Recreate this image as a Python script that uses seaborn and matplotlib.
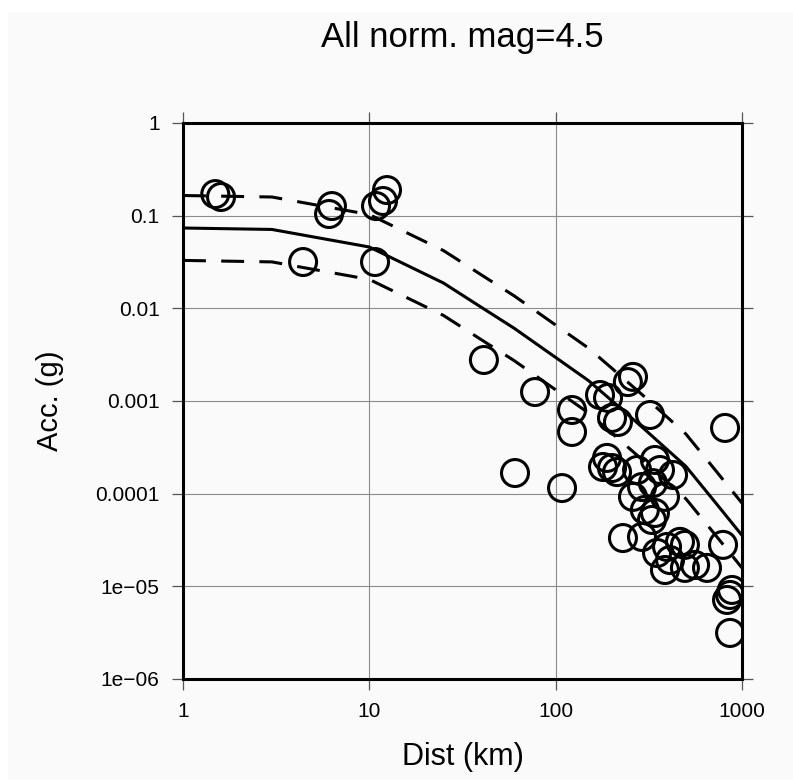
import numpy as np
import pandas as pd
import matplotlib
matplotlib.use("Agg")
import matplotlib.pyplot as plt
import seaborn as sns
from matplotlib.patches import Rectangle
from matplotlib.ticker import FixedLocator, FixedFormatter, NullLocator

# ---------------- data ----------------
dist_obs = [1.49, 1.60, 6.30, 6.08, 12.44, 11.84, 10.86, 4.41, 10.73, 41.2,
            60.5, 77.5, 108.2, 122.4, 122.4, 260, 244, 173, 191, 200.6,
            216, 321, 811, 188.6, 179.5, 200.6, 213.5, 273.5, 341, 363,
            426.6, 260, 290.6, 332.7, 386, 301, 341, 328.6, 229.7, 290.6,
            350, 396, 464.6, 494, 411, 386, 494, 649, 560, 791,
            831, 863, 884, 863]
acc_obs = [0.171, 0.159, 0.127, 0.1042, 0.189, 0.144, 0.127, 0.0316, 0.0316, 0.00277,
           0.000167, 0.00125, 0.000115, 0.00080, 0.000463, 0.00182, 0.00160, 0.00116, 0.00108, 0.000656,
           0.000594, 0.000706, 0.000512, 0.000243, 0.000194, 0.000189, 0.000171, 0.000180, 0.000231, 0.000180,
           0.000159, 9.23e-5, 0.000118, 0.000130, 9.23e-5, 6.67e-5, 6.19e-5, 5.2e-5, 3.32e-5, 3.41e-5,
           2.29e-5, 2.66e-5, 3.02e-5, 2.8e-5, 1.92e-5, 1.5e-5, 1.58e-5, 1.58e-5, 1.7e-5, 2.8e-5,
           7.13e-6, 8.07e-6, 9.14e-6, 3.14e-6]

model_dist = [1, 3, 10, 25, 40, 60, 100, 150, 200, 300, 500, 700, 1000]
model_mean = [0.0736, 0.0710, 0.0459, 0.01875, 0.01023, 0.00608, 0.00295,
              0.00166, 0.00101, 0.000495, 0.000197, 8.6e-5, 3.55e-5]
model_upper = [0.165, 0.159, 0.1028, 0.0420, 0.0229, 0.0136, 0.0066,
               0.00372, 0.00226, 0.00111, 0.00044, 0.000192, 7.9e-5]
model_lower = [0.0329, 0.0317, 0.0205, 0.00838, 0.00457, 0.00272, 0.00132,
               0.000743, 0.000451, 0.000221, 8.8e-5, 3.84e-5, 1.58e-5]

x_ticks = [1, 10, 100, 1000]
x_tick_labels = ["1", "10", "100", "1000"]
y_ticks = [1, 0.1, 0.01, 0.001, 0.0001, 1e-5, 1e-6]
y_tick_labels = ["1", "0.1", "0.01", "0.001", "0.0001", "1e\u221205", "1e\u221206"]

title_text = "All norm. mag=4.5"
x_label = "Dist (km)"
y_label = "Acc. (g)"

# ---------------- plotting ----------------
sns.set_theme(style="ticks")
plt.rcParams['font.family'] = ['Liberation Sans', 'DejaVu Sans']

W, H = 793, 783
fig = plt.figure(figsize=(W / 100, H / 100), dpi=100, facecolor='white')
fig.patches.append(Rectangle((8 / W, 3 / H), 1, 768 / H, transform=fig.transFigure,
                             facecolor='#fafafa', edgecolor='none', zorder=-10))
ax = fig.add_axes([183 / W, 104 / H, 559 / W, 556 / H])
ax.set_facecolor('#fafafa')
ax.set_xscale('log')
ax.set_yscale('log')

lines = pd.concat([
    pd.DataFrame({'dist': model_dist, 'acc': model_mean, 'kind': 'mean'}),
    pd.DataFrame({'dist': model_dist, 'acc': model_upper, 'kind': 'upper'}),
    pd.DataFrame({'dist': model_dist, 'acc': model_lower, 'kind': 'lower'}),
], ignore_index=True)

sns.lineplot(data=lines, x='dist', y='acc', style='kind',
             dashes={'mean': '', 'upper': (7.5, 5), 'lower': (7.5, 5)},
             color='black', linewidth=2.2, estimator=None, legend=False, ax=ax,
             zorder=3)

obs = pd.DataFrame({'dist': dist_obs, 'acc': acc_obs})
sns.scatterplot(data=obs, x='dist', y='acc', marker='o', s=377,
                facecolor='none', edgecolor='black', linewidth=2.2,
                legend=False, ax=ax, zorder=4)
ax.collections[-1].set_facecolor('none')

ax.set_xlim(1, 1000)
ax.set_ylim(1e-6, 1)
ax.xaxis.set_major_locator(FixedLocator(x_ticks))
ax.xaxis.set_major_formatter(FixedFormatter(x_tick_labels))
ax.yaxis.set_major_locator(FixedLocator(y_ticks))
ax.yaxis.set_major_formatter(FixedFormatter(y_tick_labels))
ax.xaxis.set_minor_locator(NullLocator())
ax.yaxis.set_minor_locator(NullLocator())

ax.grid(True, which='major', color='#8c8c8c', linewidth=0.8)
ax.set_axisbelow(True)
ax.tick_params(which='major', direction='out', length=7.9, width=0.9, color='#555555',
               top=True, right=True, labelsize=15, pad=9, labelcolor='black')
for s in ax.spines.values():
    s.set_linewidth(2.2)
    s.set_color('black')
    s.set_zorder(5)

ax.set_xlabel(x_label, fontsize=22, color='black')
ax.set_ylabel(y_label, fontsize=21, color='black')
ax.xaxis.set_label_coords(0.5, -0.113)
ax.yaxis.set_label_coords(-0.213, 0.5)
ax.text(0.5, 1.153, title_text, transform=ax.transAxes, ha='center', va='center',
        fontsize=25, color='black')

fig.savefig('out.png', dpi=100, facecolor=fig.get_facecolor())
